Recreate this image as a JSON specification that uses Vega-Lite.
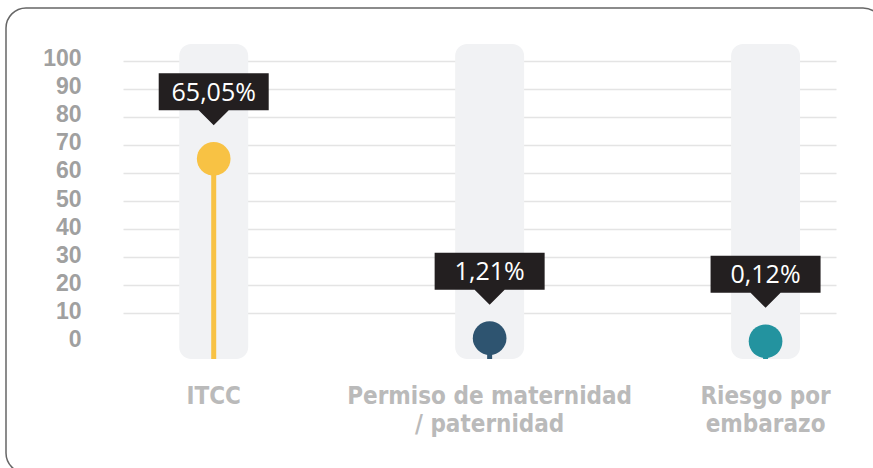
{
  "$schema": "https://vega.github.io/schema/vega-lite/v6.json",
  "width": 877,
  "height": 465,
  "autosize": {"type": "none"},
  "padding": {"left": 6, "top": 8, "right": -10, "bottom": -5},
  "background": "white",
  "config": {
    "view": {"stroke": "#666666", "strokeWidth": 1.5, "cornerRadius": 20, "fill": "white"}
  },
  "data": {
    "values": [
      {"cat": "ITCC", "value": 65.05, "label": "65,05%"},
      {"cat": "Permiso de maternidad / paternidad", "value": 1.21, "label": "1,21%"},
      {"cat": "Riesgo por embarazo", "value": 0.12, "label": "0,12%"}
    ]
  },
  "encoding": {
    "x": {
      "field": "cat",
      "type": "nominal",
      "sort": null,
      "scale": {"type": "band", "range": [117, 830], "paddingInner": 0.75, "paddingOuter": 0.167, "align": 0.61},
      "axis": {
        "orient": "bottom",
        "title": null,
        "offset": -89,
        "labelPadding": 0,
        "ticks": false,
        "tickSize": 0,
        "domain": false,
        "grid": false,
        "labelAngle": 0,
        "labelLimit": 0,
        "labelBaseline": "top",
        "labelFont": "Liberation Sans Narrow, DejaVu Sans Condensed, sans-serif",
        "labelFontWeight": "bold",
        "labelFontSize": 24,
        "labelLineHeight": 28,
        "labelColor": "#bababa",
        "labelExpr": "datum.label == 'Permiso de maternidad / paternidad' ? ['Permiso de maternidad', '/ paternidad'] : datum.label == 'Riesgo por embarazo' ? ['Riesgo por', 'embarazo'] : datum.label"
      }
    }
  },
  "layer": [
    {
      "mark": {"type": "bar", "color": "#f1f2f4", "cornerRadius": 12},
      "encoding": {
        "y": {
          "datum": 105.9,
          "type": "quantitative",
          "scale": {"domain": [-6.2, 105.9], "range": [351, 36], "nice": false, "zero": false},
          "axis": {
            "title": null,
            "values": [0, 10, 20, 30, 40, 50, 60, 70, 80, 90, 100],
            "grid": true,
            "gridColor": {"condition": {"test": "datum.value === 0", "value": "transparent"}, "value": "#e4e4e4"},
            "gridWidth": 1.5,
            "domain": false,
            "ticks": false,
            "tickSize": 0,
            "labelPadding": 0,
            "offset": -75,
            "labelOffset": -2,
            "labelFont": "Liberation Sans",
            "labelFontWeight": "bold",
            "labelFontSize": 23,
            "labelColor": "#a0a0a0"
          }
        },
        "y2": {"datum": -6.2}
      }
    },
    {
      "mark": {"type": "rule", "strokeWidth": 5},
      "encoding": {
        "y": {"field": "value", "type": "quantitative"},
        "y2": {"datum": -6.2},
        "color": {
          "field": "cat",
          "type": "nominal",
          "scale": {"domain": ["ITCC", "Permiso de maternidad / paternidad", "Riesgo por embarazo"], "range": ["#f8c244", "#2e5470", "#23939f"]},
          "legend": null
        }
      }
    },
    {
      "mark": {"type": "point", "filled": true, "opacity": 1, "size": 1134, "strokeWidth": 0},
      "encoding": {
        "y": {"field": "value", "type": "quantitative"},
        "color": {"field": "cat", "type": "nominal", "legend": null}
      }
    },
    {
      "mark": {
        "type": "point",
        "filled": true,
        "opacity": 1,
        "color": "#231f20",
        "strokeWidth": 0,
        "size": 12100,
        "yOffset": -67,
        "shape": "M-1,-0.336L1,-0.336L1,0.336L0.273,0.336L0,0.609L-0.273,0.336L-1,0.336Z"
      },
      "encoding": {
        "y": {"field": "value", "type": "quantitative"}
      }
    },
    {
      "mark": {"type": "text", "color": "white", "font": "Open Sans", "fontSize": 25, "baseline": "middle", "align": "center", "yOffset": -66},
      "encoding": {
        "y": {"field": "value", "type": "quantitative"},
        "text": {"field": "label"}
      }
    }
  ]
}
